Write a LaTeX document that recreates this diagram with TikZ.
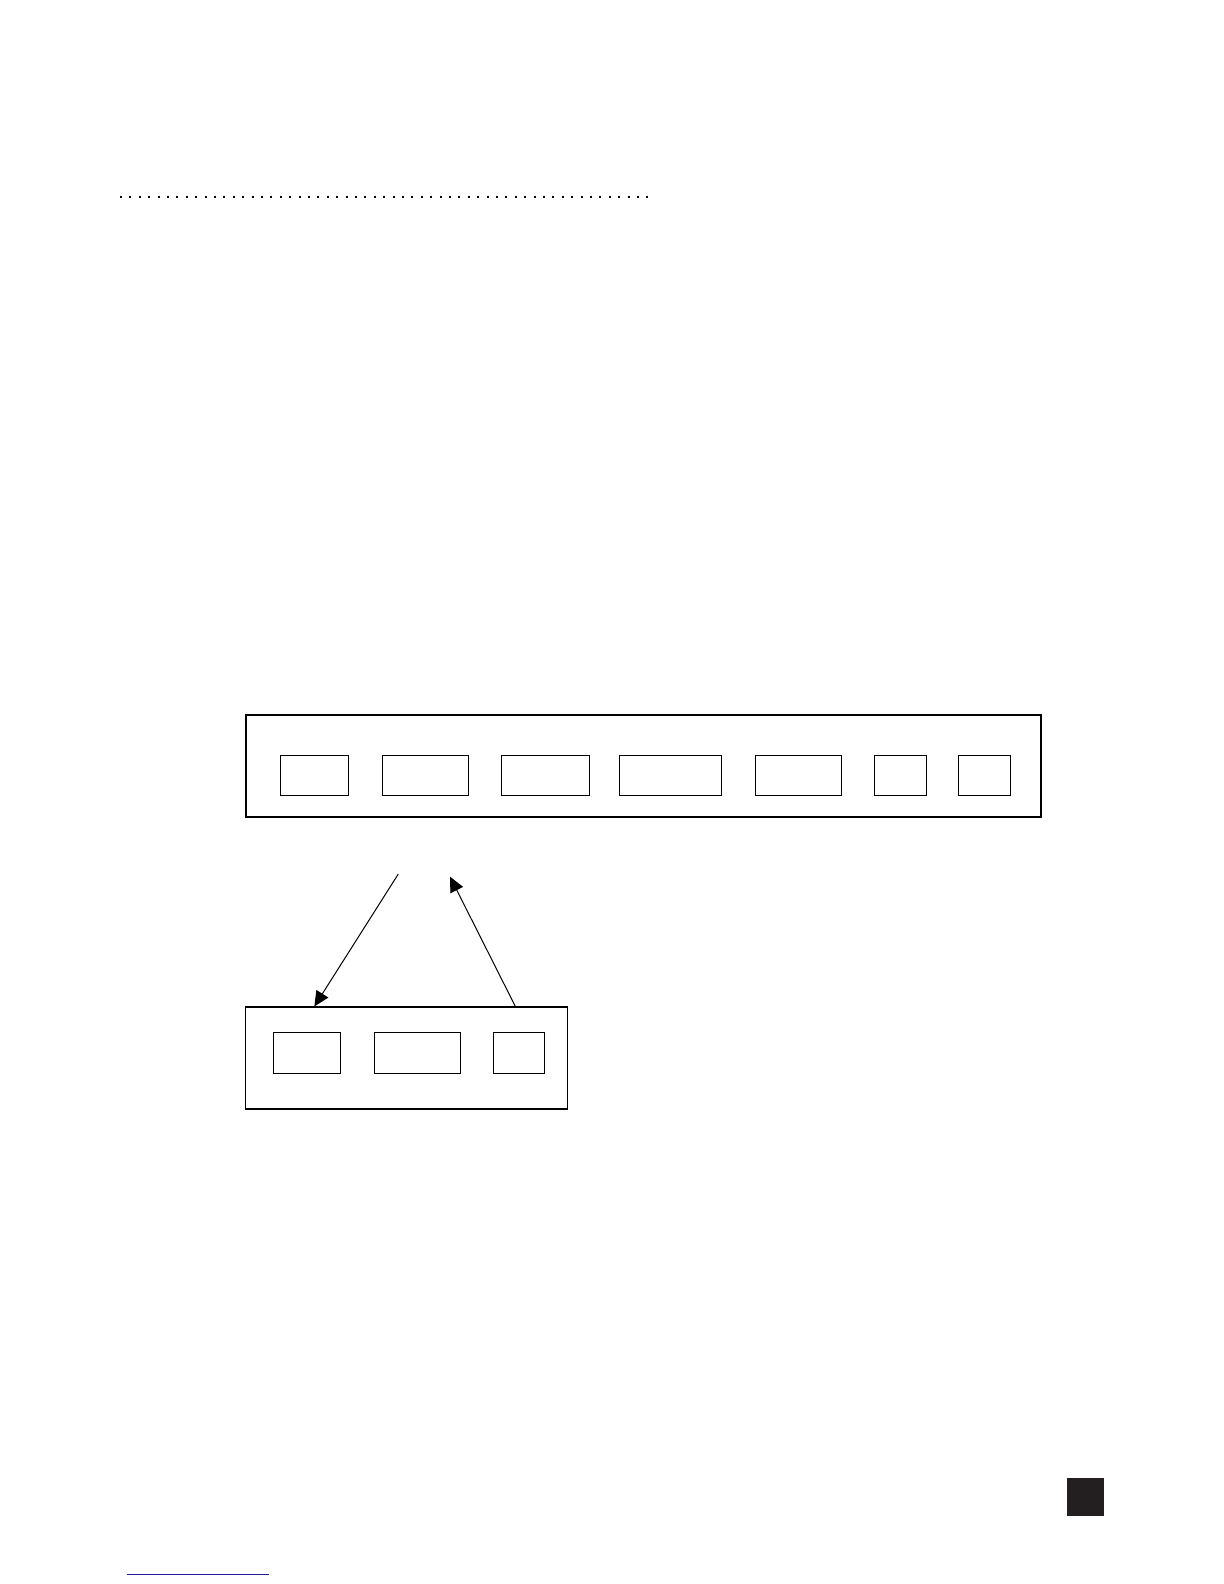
\documentclass[tikz,border=0pt]{standalone}
\usepackage{tikz}
\usetikzlibrary{shapes, arrows.meta, positioning, backgrounds}
\definecolor{linkblue}{RGB}{30,30,150}
\definecolor{tabblack}{RGB}{35,31,32}
\tikzstyle{frame} = [rectangle, draw=black, line width=0.85pt, inner sep=0pt, minimum height=51pt]
\tikzstyle{cell} = [rectangle, draw=black, line width=0.5pt, inner sep=0pt, minimum height=20pt]
\tikzstyle{arrow} = [-{Triangle[length=7.5pt, width=7pt]}, line width=0.5pt]
\tikzstyle{dotline} = [line width=1pt, dash pattern=on 1pt off 3.7pt]

\begin{document}
\begin{tikzpicture}[x=0.5pt, y=-0.5pt, background rectangle/.style={fill=white}, show background rectangle]

    \useasboundingbox (0, 0) rectangle (1224, 1584);

    % dotted rule at the top
    \coordinate (dots0) at (120, 196.7);
    \coordinate (dots1) at (649, 196.7);
    \draw [dotline] (dots0) -- (dots1);

    % upper row
    \node (row) [frame, minimum width=397.65pt] at (643.4, 766) {};
    \node (cell1) [cell, minimum width=33.85pt] at (314.8, 775.3) {};
    \node (cell2) [cell, minimum width=43.15pt] at (425.5, 775.3) {};
    \node (cell3) [cell, minimum width=44.15pt] at (545.5, 775.3) {};
    \node (cell4) [cell, minimum width=51.15pt] at (670.5, 775.3) {};
    \node (cell5) [cell, minimum width=43.15pt] at (798.5, 775.3) {};
    \node (cell6) [cell, minimum width=26.15pt] at (900.5, 775.3) {};
    \node (cell7) [cell, minimum width=26.15pt] at (984.5, 775.3) {};

    % lower row
    \node (sub) [frame, line width=0.6pt, minimum width=160.85pt] at (406.5, 1058) {};
    \node (sub1) [cell, minimum width=33.5pt, minimum height=20.35pt] at (306.8, 1052.7) {};
    \node (sub2) [cell, minimum width=43pt, minimum height=20.35pt] at (417.3, 1052.7) {};
    \node (sub3) [cell, minimum width=25.5pt, minimum height=20.35pt] at (518.8, 1052.7) {};

    % arrows between the rows
    \coordinate (down0) at (398.3, 874);
    \coordinate (up1) at (450, 876.7);
    \draw [arrow] (down0) -- ([xshift=34.65pt]sub.north west);
    \draw [arrow] ([xshift=135.15pt]sub.north west) -- (up1);

    % page furniture
    \node (tab) [rectangle, fill=tabblack, inner sep=0pt, minimum width=18.5pt, minimum height=19pt] at (1085.5, 1497) {};
    \coordinate (link0) at (127, 1574.7);
    \coordinate (link1) at (269, 1574.7);
    \draw [linkblue, line width=0.7pt] (link0) -- (link1);

\end{tikzpicture}
\end{document}
